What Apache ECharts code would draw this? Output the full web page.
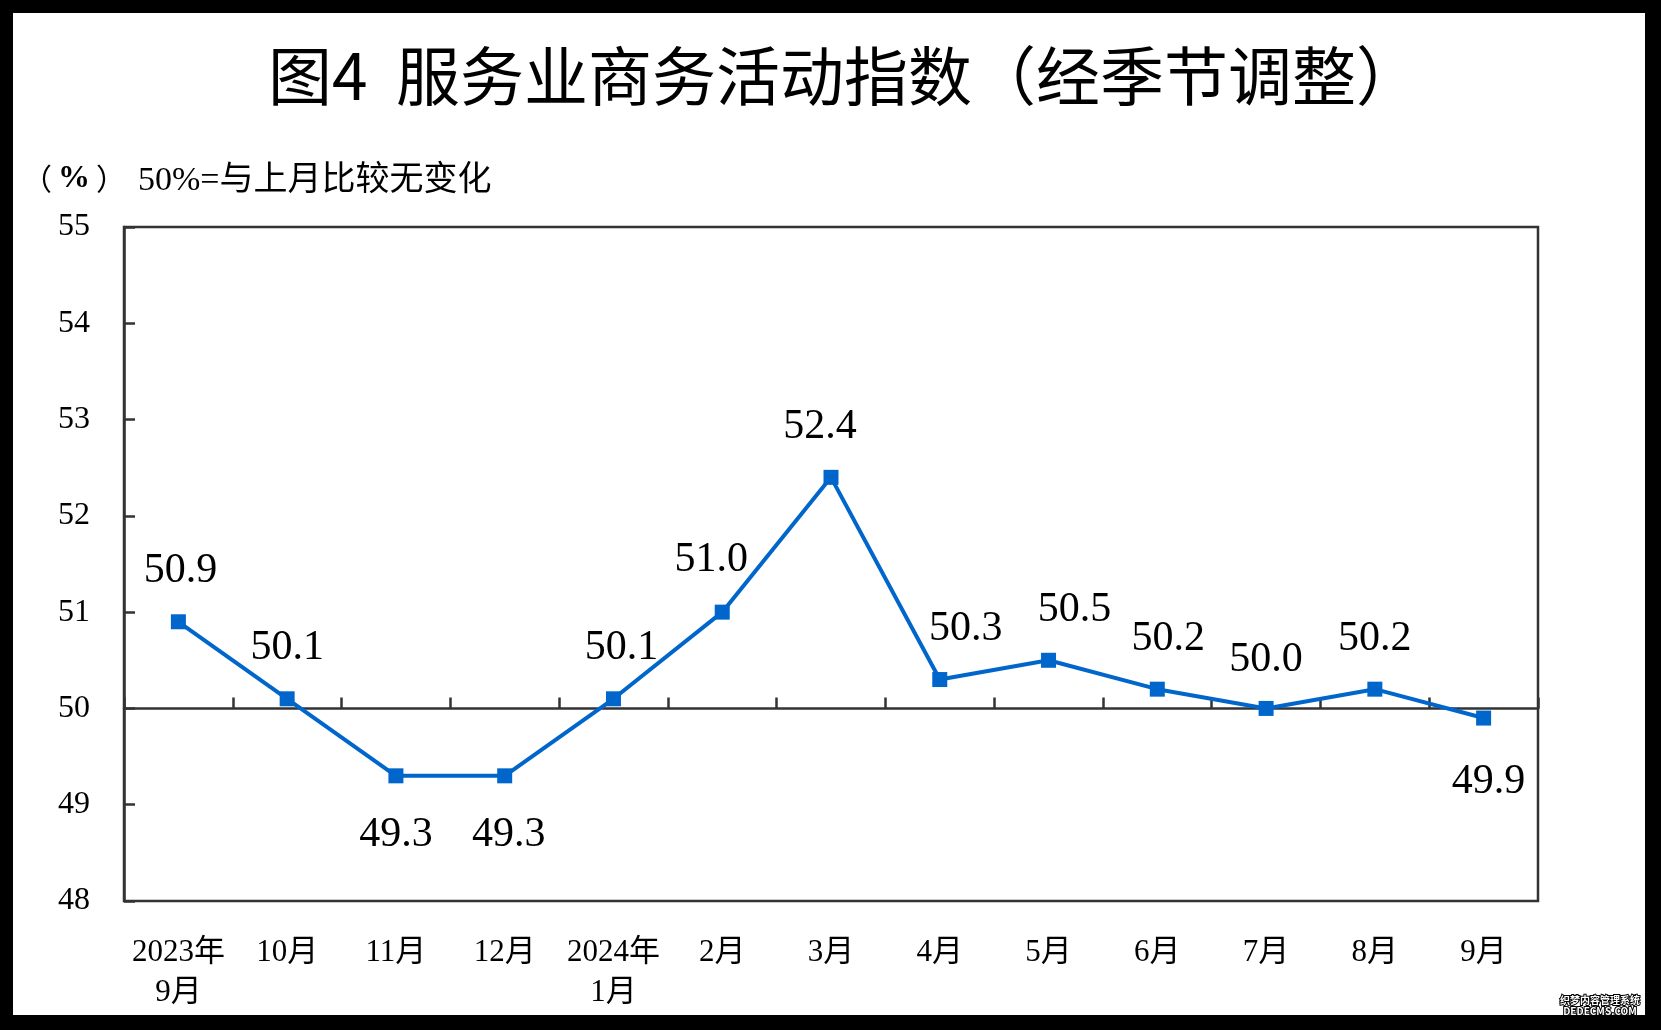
<!DOCTYPE html>
<html>
<head>
<meta charset="utf-8">
<script src="https://cdn.jsdelivr.net/npm/echarts@6/dist/echarts.min.js"></script>
<style>
  html, body { margin: 0; padding: 0; background: #fff; }
  #chart { position: absolute; left: 0; top: 0; width: 1661px; height: 1030px; background: #fff; }
  #frame { position: absolute; left: 0; top: 0; width: 1661px; height: 1030px; box-sizing: border-box;
           border-left: 13px solid #000; border-top: 13px solid #000; border-right: 16px solid #000; border-bottom: 15px solid #000;
           pointer-events: none; }
</style>
</head>
<body>
<div id="chart"></div>
<div id="frame"></div>
<script>
// ---- data ----
const titleText = '图4  服务业商务活动指数（经季节调整）';
const unitText = '%';
const noteText = '50%=与上月比较无变化';
const categories = ['2023年\n9月', '10月', '11月', '12月', '2024年\n1月', '2月', '3月', '4月', '5月', '6月', '7月', '8月', '9月'];
const values = [50.9, 50.1, 49.3, 49.3, 50.1, 51.0, 52.4, 50.3, 50.5, 50.2, 50.0, 50.2, 49.9];
const yMin = 48;
const yMax = 55;
const yInterval = 1;
const refValue = 50;

// ---- styles ----
const serif = "'Times New Roman', 'Liberation Serif', 'Noto Sans CJK SC', serif";
const cjk = "'Noto Sans CJK SC', sans-serif";
const blue = '#0066CC';
const axisColor = '#333333';
const grid = { left: 124, right: 123, top: 227, bottom: 129 };
const gridHeight = 1030 - grid.top - grid.bottom;
const labelPos = ['top', 'top', 'bottom', 'bottom', 'top', 'top', 'top', 'top', 'top', 'top', 'top', 'top', 'bottom'];
const labelShift = [[2, 0], [0, 0], [0, 0], [4, 0], [8, 0], [-11, -2], [-11, 0], [26, 0], [26, 0], [11, 0], [0, 2], [0, 0], [5, 4]];

const seriesData = values.map((v, i) => ({
  value: v,
  label: { position: labelPos[i], offset: labelShift[i], distance: labelPos[i] === 'top' ? 22 : 31 }
}));

const chart = echarts.init(document.getElementById('chart'), null, { renderer: 'canvas' });
chart.setOption({
  backgroundColor: '#fff',
  animation: false,
  graphic: [
    { type: 'text', x: 0, y: 0, style: { text: titleText, x: 844, y: 76, textAlign: 'center', textVerticalAlign: 'middle', fontSize: 64, fontFamily: cjk, fill: '#000' } },
    { type: 'text', x: 0, y: 0, style: {
        text: '{p|（}{u|' + unitText + '}{p|）}', x: 22, y: 179, textVerticalAlign: 'middle',
        rich: {
          p: { fontSize: 30, fontFamily: cjk, fill: '#000' },
          u: { fontSize: 32, fontWeight: 'bold', fontFamily: serif, fill: '#000', padding: [0, 6, 0, 6] }
        }
      } },
    { type: 'text', x: 0, y: 0, style: { text: noteText, x: 138, y: 181, textVerticalAlign: 'middle', fontSize: 34, fontFamily: serif, fill: '#000' } },
    { type: 'text', x: 0, y: 0, style: { text: '织梦内容管理系统\nDEDECMS.COM', x: 1600, y: 1006, textAlign: 'center', textVerticalAlign: 'middle', fontSize: 10, lineHeight: 11, fontWeight: 'bold', fontFamily: cjk, fill: '#fff', stroke: '#000', lineWidth: 2 } }
  ],
  grid: { left: grid.left, right: grid.right, top: grid.top, bottom: grid.bottom, show: true, borderColor: axisColor, borderWidth: 2.5, backgroundColor: 'transparent' },
  xAxis: [
    {
      type: 'category', data: categories, boundaryGap: true, position: 'bottom',
      axisLine: { show: false }, axisTick: { show: false },
      axisLabel: { color: '#000', fontSize: 31, lineHeight: 40, fontFamily: serif, margin: 32, interval: 0 }
    },
    {
      type: 'category', data: categories, boundaryGap: true, position: 'bottom',
      offset: -(refValue - yMin) / (yMax - yMin) * gridHeight,
      axisLine: { show: true, onZero: false, lineStyle: { color: axisColor, width: 2.5 } },
      axisTick: { show: true, inside: true, length: 11, interval: 0, lineStyle: { color: axisColor, width: 2.5 } },
      axisLabel: { show: false }
    }
  ],
  yAxis: {
    type: 'value', min: yMin, max: yMax, interval: yInterval,
    axisLine: { show: true, lineStyle: { color: axisColor, width: 2.5 } },
    axisTick: { show: true, inside: true, length: 11, lineStyle: { color: axisColor, width: 2.5 } },
    splitLine: { show: false },
    axisLabel: { color: '#000', fontSize: 32, fontFamily: serif, margin: 34, padding: [6, 0, 0, 0] }
  },
  series: [{
    type: 'line', xAxisIndex: 0, data: seriesData,
    symbol: 'rect', symbolSize: 15,
    lineStyle: { color: blue, width: 4 },
    itemStyle: { color: blue },
    label: { show: true, fontSize: 42, fontFamily: serif, color: '#000', formatter: p => p.value.toFixed(1) },
    z: 5
  }]
});
</script>
</body>
</html>
